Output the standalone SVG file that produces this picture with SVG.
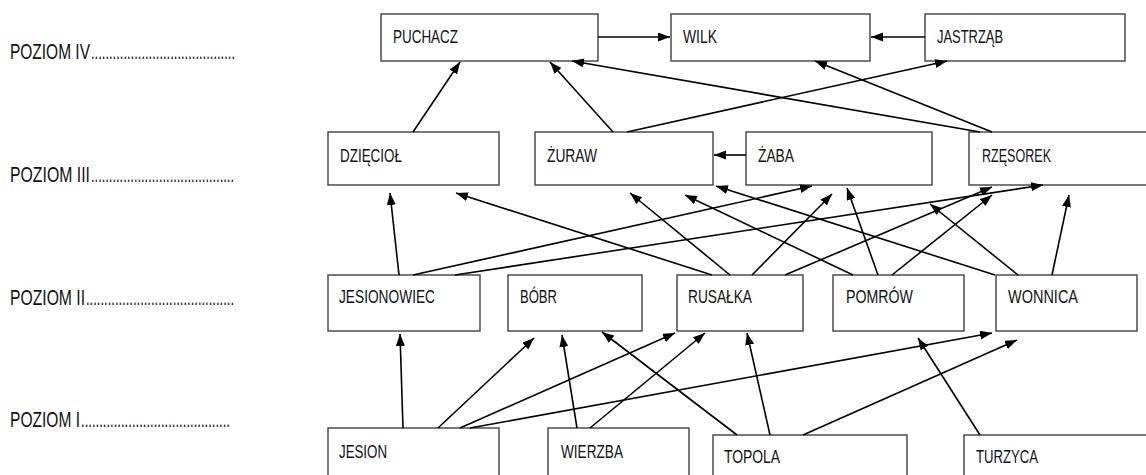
<svg xmlns="http://www.w3.org/2000/svg" width="1146" height="475" viewBox="0 0 1146 475">
<defs>
<marker id="ah" markerUnits="userSpaceOnUse" markerWidth="13" markerHeight="10" refX="12" refY="4.5" orient="auto">
<path d="M0,0 L12,4.5 L0,9 z" fill="#000"/>
</marker>
<style>
.box{fill:#fff;stroke:#404040;stroke-width:1.4}
.t{font-family:"Liberation Sans Narrow","Liberation Sans",Arial,sans-serif;font-size:18px;fill:#111}
.lvl{font-family:"Liberation Sans Narrow","Liberation Sans",Arial,sans-serif;font-size:22px;fill:#111}
.c line{stroke:#000;stroke-width:1.6;marker-end:url(#ah)}
</style>
</defs>
<rect width="1146" height="475" fill="#fff"/>
<g id="levels">
<text class="lvl" y="59"><tspan x="10" textLength="80" lengthAdjust="spacingAndGlyphs">POZIOM IV</tspan><tspan x="91" textLength="144" lengthAdjust="spacingAndGlyphs">........................................</tspan></text>
<text class="lvl" y="182"><tspan x="10" textLength="80" lengthAdjust="spacingAndGlyphs">POZIOM III</tspan><tspan x="91" textLength="143" lengthAdjust="spacingAndGlyphs">........................................</tspan></text>
<text class="lvl" y="305"><tspan x="10" textLength="75" lengthAdjust="spacingAndGlyphs">POZIOM II</tspan><tspan x="86" textLength="148" lengthAdjust="spacingAndGlyphs">.........................................</tspan></text>
<text class="lvl" y="427"><tspan x="10" textLength="70" lengthAdjust="spacingAndGlyphs">POZIOM I</tspan><tspan x="81" textLength="149" lengthAdjust="spacingAndGlyphs">.........................................</tspan></text>
</g>
<g id="puchacz"><rect class="box" x="381" y="14" width="217" height="47"/><text class="t" x="393" y="43" textLength="65" lengthAdjust="spacingAndGlyphs">PUCHACZ</text></g>
<g id="wilk"><rect class="box" x="671" y="14" width="199" height="47"/><text class="t" x="683" y="43" textLength="34" lengthAdjust="spacingAndGlyphs">WILK</text></g>
<g id="jastrzab"><rect class="box" x="925" y="14" width="200" height="47"/><text class="t" x="937" y="43" textLength="66" lengthAdjust="spacingAndGlyphs">JASTRZĄB</text></g>
<g id="dzieciol"><rect class="box" x="328" y="132" width="171" height="53"/><text class="t" x="340" y="162" textLength="62" lengthAdjust="spacingAndGlyphs">DZIĘCIOŁ</text></g>
<g id="zuraw"><rect class="box" x="535" y="132" width="178" height="53"/><text class="t" x="547" y="162" textLength="50" lengthAdjust="spacingAndGlyphs">ŻURAW</text></g>
<g id="zaba"><rect class="box" x="746" y="132" width="186" height="53"/><text class="t" x="758" y="162" textLength="36" lengthAdjust="spacingAndGlyphs">ŻABA</text></g>
<g id="rzesorek"><rect class="box" x="969" y="132" width="185" height="53"/><text class="t" x="982" y="162" textLength="69" lengthAdjust="spacingAndGlyphs">RZĘSOREK</text></g>
<g id="jesionowiec"><rect class="box" x="328" y="275" width="152" height="56"/><text class="t" x="339" y="303" textLength="96" lengthAdjust="spacingAndGlyphs">JESIONOWIEC</text></g>
<g id="bobr"><rect class="box" x="508" y="275" width="134" height="56"/><text class="t" x="520" y="303" textLength="37" lengthAdjust="spacingAndGlyphs">BÓBR</text></g>
<g id="rusalka"><rect class="box" x="677" y="275" width="126" height="56"/><text class="t" x="688" y="303" textLength="64" lengthAdjust="spacingAndGlyphs">RUSAŁKA</text></g>
<g id="pomrow"><rect class="box" x="833" y="275" width="131" height="56"/><text class="t" x="846" y="303" textLength="67" lengthAdjust="spacingAndGlyphs">POMRÓW</text></g>
<g id="wonnica"><rect class="box" x="996" y="275" width="141" height="56"/><text class="t" x="1008" y="303" textLength="70" lengthAdjust="spacingAndGlyphs">WONNICA</text></g>
<g id="jesion"><rect class="box" x="328" y="428" width="171" height="60"/><text class="t" x="339" y="458" textLength="48" lengthAdjust="spacingAndGlyphs">JESION</text></g>
<g id="wierzba"><rect class="box" x="548" y="428" width="141" height="60"/><text class="t" x="561" y="458" textLength="62" lengthAdjust="spacingAndGlyphs">WIERZBA</text></g>
<g id="topola"><rect class="box" x="713" y="435" width="194" height="60"/><text class="t" x="724" y="463" textLength="56" lengthAdjust="spacingAndGlyphs">TOPOLA</text></g>
<g id="turzyca"><rect class="box" x="964" y="435" width="190" height="60"/><text class="t" x="976" y="463" textLength="62" lengthAdjust="spacingAndGlyphs">TURZYCA</text></g>
<g id="connectors" class="c">
<line x1="598" y1="37" x2="670" y2="37"/>
<line x1="925" y1="37" x2="871" y2="37"/>
<line x1="413" y1="132" x2="460" y2="62"/>
<line x1="613" y1="132" x2="550" y2="62"/>
<line x1="980" y1="132" x2="572" y2="61"/>
<line x1="992" y1="132" x2="815" y2="61"/>
<line x1="627" y1="132" x2="947" y2="61"/>
<line x1="746" y1="155" x2="714" y2="155"/>
<line x1="399" y1="275" x2="390" y2="193"/>
<line x1="712" y1="275" x2="456" y2="193"/>
<line x1="413" y1="275" x2="812" y2="186"/>
<line x1="455" y1="275" x2="1043" y2="185"/>
<line x1="730" y1="275" x2="630" y2="193"/>
<line x1="752" y1="275" x2="832" y2="194"/>
<line x1="785" y1="275" x2="992" y2="187"/>
<line x1="853" y1="275" x2="685" y2="195"/>
<line x1="878" y1="275" x2="847" y2="188"/>
<line x1="892" y1="275" x2="992" y2="195"/>
<line x1="995" y1="275" x2="716" y2="186"/>
<line x1="1018" y1="275" x2="930" y2="204"/>
<line x1="1052" y1="275" x2="1069" y2="195"/>
<line x1="403" y1="428" x2="400" y2="334"/>
<line x1="438" y1="428" x2="534" y2="338"/>
<line x1="460" y1="428" x2="675" y2="333"/>
<line x1="470" y1="428" x2="992" y2="333"/>
<line x1="577" y1="428" x2="562" y2="335"/>
<line x1="590" y1="428" x2="705" y2="333"/>
<line x1="737" y1="435" x2="602" y2="332"/>
<line x1="770" y1="435" x2="747" y2="333"/>
<line x1="803" y1="435" x2="1017" y2="340"/>
<line x1="980" y1="435" x2="918" y2="338"/>
</g>
</svg>
